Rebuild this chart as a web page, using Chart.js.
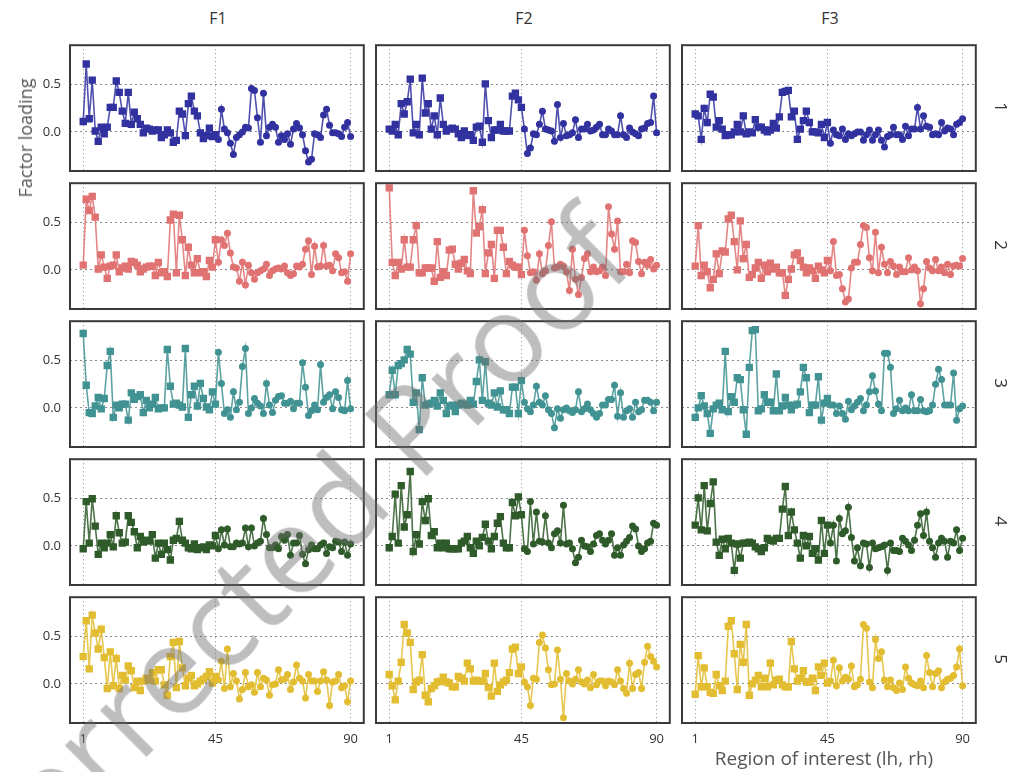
<!DOCTYPE html>
<html>
<head>
<meta charset="utf-8">
<script src="https://cdn.jsdelivr.net/npm/chart.js@4.4.1/dist/chart.umd.min.js"></script>
<style>
  body { margin: 0; background: #fff; }
  #fig { position: relative; width: 1017px; height: 772px; overflow: hidden; font-family: "Open Sans", sans-serif; }
  #fig canvas { position: absolute; }
  .lbl { position: absolute; white-space: nowrap; color: #333; transform: translate(-50%, -50%); }
  .axis { color: #555; }
  #stamp {
    position: absolute; left: 285px; top: 552px; white-space: nowrap;
    font-size: 122px; font-weight: 500; color: rgba(110, 110, 110, 0.45);
    transform: translate(-50%, -50%) rotate(-45deg); pointer-events: none; z-index: 5;
  }
</style>
</head>
<body>
<div id="fig"></div>
<script>
const factors = ["F1", "F2", "F3"];
const components = ["1", "2", "3", "4", "5"];
const xTicks = [1, 45, 90];
const yTicks = [0.0, 0.5];
const lhCount = 45; // first 45 regions = lh (squares), rest = rh (circles)

// component 1
const c1_F1 = [0.11, 0.72, 0.14, 0.55, 0.01, -0.10, 0.05, -0.02, 0.05, 0.26, 0.26, 0.54, 0.42, 0.22, 0.09, 0.42, 0.08, 0.21, 0.14, 0.08, -0.01, 0.04, 0.03, 0.01, 0.02, 0.02, -0.06, -0.03, 0.02, -0.01, -0.11, -0.09, 0.22, 0.19, -0.04, 0.30, 0.38, 0.22, 0.17, -0.01, -0.07, -0.04, 0.04, -0.05, -0.03,
  -0.08, 0.24, 0.03, -0.01, -0.12, -0.24, -0.06, -0.03, 0.00, 0.05, 0.04, 0.46, 0.44, 0.15, -0.11, 0.41, -0.04, 0.05, 0.08, 0.05, -0.11, -0.04, -0.08, -0.02, -0.13, 0.03, 0.09, 0.04, -0.03, -0.20, -0.32, -0.29, -0.02, -0.03, -0.06, 0.18, 0.24, 0.07, -0.01, -0.01, -0.02, -0.05, 0.05, 0.10, -0.05];
const c1_F2 = [0.03, 0.01, 0.08, -0.03, 0.30, 0.19, 0.32, 0.56, -0.01, 0.08, -0.03, 0.57, 0.20, 0.30, 0.03, 0.17, -0.03, 0.36, 0.08, 0.01, 0.03, 0.04, 0.03, -0.02, -0.06, 0.01, -0.04, -0.03, -0.09, 0.05, 0.06, -0.11, 0.51, 0.12, -0.06, 0.02, 0.02, 0.08, 0.01, 0.01, 0.01, 0.38, 0.41, 0.34, 0.26,
  0.03, -0.23, -0.17, -0.02, -0.03, 0.08, 0.22, 0.03, 0.02, 0.01, -0.10, 0.29, -0.06, 0.09, -0.04, -0.03, -0.01, 0.13, -0.06, 0.03, 0.03, 0.08, 0.01, 0.02, 0.05, 0.08, -0.03, -0.03, 0.03, 0.01, -0.03, -0.03, 0.17, -0.03, -0.06, 0.04, 0.00, -0.02, -0.04, 0.03, 0.04, 0.09, 0.10, 0.38, -0.01];
const c1_F3 = [0.19, 0.17, -0.08, 0.25, 0.10, 0.40, 0.37, 0.05, 0.12, 0.03, -0.04, -0.03, -0.03, 0.00, 0.08, 0.00, 0.17, -0.02, 0.00, -0.01, 0.13, 0.05, 0.05, 0.02, 0.00, 0.02, 0.09, 0.04, 0.16, 0.42, 0.43, 0.44, 0.16, 0.22, -0.08, 0.03, 0.12, 0.22, 0.10, 0.00, 0.00, -0.01, 0.08, -0.06, 0.10,
  -0.12, 0.02, -0.03, -0.04, 0.03, -0.08, -0.02, -0.04, -0.02, 0.00, 0.00, -0.09, -0.03, 0.02, -0.09, -0.03, 0.02, -0.09, -0.16, -0.05, -0.03, 0.05, -0.03, -0.03, -0.08, 0.06, -0.04, 0.03, 0.03, 0.26, 0.03, 0.17, 0.06, 0.05, -0.03, -0.02, -0.03, 0.10, 0.01, 0.04, 0.03, -0.03, 0.08, 0.10, 0.14];

// component 2
const c2_F1 = [0.05, 0.75, 0.63, 0.78, 0.56, 0.01, 0.16, 0.03, -0.09, 0.04, 0.05, 0.16, -0.02, 0.02, 0.04, 0.01, 0.09, 0.08, 0.05, -0.02, 0.01, 0.03, 0.04, 0.04, -0.06, 0.08, -0.03, -0.02, -0.07, 0.53, 0.59, -0.03, 0.58, 0.32, -0.06, 0.24, 0.05, -0.03, 0.12, -0.03, -0.02, -0.07, 0.10, 0.03, 0.32,
  0.08, 0.32, 0.26, 0.39, 0.18, 0.03, 0.02, -0.12, 0.08, -0.16, 0.05, -0.03, -0.10, -0.03, -0.01, 0.01, 0.06, -0.06, -0.01, 0.01, 0.02, 0.01, 0.04, -0.03, -0.06, -0.04, 0.04, 0.03, 0.06, 0.22, 0.31, -0.05, 0.25, 0.03, 0.04, 0.26, 0.04, 0.05, -0.01, 0.17, 0.13, -0.03, -0.02, -0.12, 0.17];
const c2_F2 = [0.87, 0.08, -0.06, 0.08, 0.01, 0.32, 0.03, 0.03, 0.32, 0.47, -0.03, -0.03, 0.02, 0.02, 0.02, -0.12, 0.30, -0.08, -0.02, -0.06, 0.21, 0.22, 0.06, 0.01, 0.07, 0.11, -0.01, -0.04, 0.84, 0.39, 0.46, 0.64, -0.04, 0.18, 0.27, -0.09, 0.42, 0.42, 0.24, -0.04, 0.09, 0.05, 0.03, 0.03, -0.05,
  0.42, 0.15, -0.03, -0.02, -0.11, 0.17, -0.04, -0.01, 0.26, 0.51, 0.02, 0.03, 0.06, 0.04, -0.02, -0.22, 0.22, -0.10, -0.26, -0.08, 0.12, 0.17, -0.02, 0.03, -0.02, -0.01, 0.03, -0.06, 0.67, 0.38, 0.22, 0.52, -0.02, -0.02, 0.06, -0.03, 0.31, 0.29, 0.09, -0.04, 0.08, 0.05, 0.11, 0.01, 0.05];
const c2_F3 = [0.04, 0.47, -0.06, 0.05, -0.02, -0.19, -0.10, 0.17, -0.04, 0.20, 0.19, 0.54, 0.58, 0.30, 0.00, 0.52, 0.12, 0.27, -0.08, -0.05, 0.02, 0.08, -0.09, 0.05, -0.02, 0.07, 0.01, 0.03, -0.03, -0.03, -0.27, -0.10, 0.01, 0.16, 0.18, 0.10, 0.03, -0.03, 0.02, -0.01, -0.09, 0.04, 0.00, -0.03, 0.10,
  -0.01, 0.30, -0.06, -0.05, -0.20, -0.34, -0.31, 0.02, 0.08, 0.08, 0.27, 0.47, 0.45, 0.13, -0.01, 0.40, -0.03, 0.24, 0.06, -0.03, 0.09, 0.04, -0.05, 0.03, -0.02, -0.02, 0.13, 0.00, 0.03, -0.01, -0.36, -0.20, 0.09, 0.02, -0.01, 0.11, -0.01, 0.03, -0.03, 0.06, -0.05, 0.04, 0.05, 0.04, 0.12];

// component 3
const c3_F1 = [0.79, 0.24, -0.05, -0.06, 0.02, 0.11, -0.01, 0.10, 0.45, 0.60, -0.10, 0.03, 0.00, 0.04, 0.04, -0.13, 0.16, 0.09, 0.12, 0.14, -0.05, 0.08, 0.00, 0.04, 0.11, -0.01, 0.00, 0.00, 0.62, 0.23, 0.04, 0.05, 0.03, 0.01, 0.63, -0.10, 0.14, 0.23, 0.02, 0.26, 0.10, 0.01, -0.02, 0.17, 0.04,
  0.59, 0.26, -0.06, -0.02, -0.10, 0.17, -0.02, 0.06, 0.44, 0.63, -0.06, 0.00, 0.10, 0.05, 0.02, -0.06, 0.26, 0.03, -0.05, 0.08, 0.12, 0.13, 0.05, 0.05, 0.07, -0.01, 0.05, 0.05, 0.48, 0.22, -0.08, -0.03, 0.03, -0.02, 0.46, 0.06, 0.11, 0.14, -0.01, 0.17, 0.11, -0.02, -0.03, 0.29, -0.01];
const c3_F2 = [0.14, 0.40, 0.14, 0.45, 0.47, 0.51, 0.62, 0.57, 0.06, 0.16, -0.23, 0.32, 0.03, 0.04, 0.05, 0.08, 0.02, 0.16, 0.08, -0.06, 0.02, 0.03, -0.04, 0.03, 0.05, 0.04, 0.03, 0.08, 0.04, 0.28, 0.51, 0.08, 0.49, 0.05, 0.03, 0.16, 0.01, 0.18, -0.02, -0.02, -0.06, 0.22, 0.22, -0.06, 0.29,
  0.06, -0.01, -0.04, 0.03, 0.23, 0.06, 0.03, 0.13, -0.02, -0.06, -0.21, -0.01, -0.11, -0.02, 0.00, -0.03, -0.05, -0.02, 0.17, -0.04, -0.01, 0.04, -0.02, -0.06, -0.10, -0.06, 0.03, 0.03, 0.09, 0.09, 0.24, -0.09, 0.16, -0.10, -0.03, -0.01, -0.10, 0.06, -0.04, -0.02, 0.08, 0.08, 0.06, -0.03, 0.06];
const c3_F3 = [-0.10, 0.00, 0.13, 0.02, -0.06, -0.27, -0.01, 0.03, 0.05, -0.02, 0.60, -0.04, 0.12, 0.06, 0.32, 0.30, -0.02, -0.28, 0.43, 0.82, 0.83, -0.03, -0.01, 0.14, 0.06, 0.06, -0.03, 0.36, -0.03, 0.02, 0.11, 0.03, -0.02, 0.03, 0.04, 0.17, 0.43, 0.32, -0.05, 0.03, 0.03, 0.33, -0.13, 0.05, 0.10,
  0.03, 0.03, -0.06, 0.02, -0.06, -0.12, 0.07, -0.02, 0.02, 0.06, 0.10, -0.03, 0.03, 0.17, 0.34, 0.18, 0.04, -0.03, 0.58, 0.58, 0.43, -0.06, -0.01, 0.08, -0.03, 0.00, -0.03, 0.14, -0.03, -0.03, 0.09, -0.03, -0.04, -0.03, 0.03, 0.25, 0.41, 0.30, 0.03, 0.03, 0.03, 0.37, -0.13, -0.01, 0.02];

// component 4
const c4_F1 = [-0.03, 0.47, 0.03, 0.50, 0.21, -0.09, 0.03, -0.02, 0.03, 0.12, -0.01, 0.32, 0.14, 0.03, 0.04, 0.32, 0.25, 0.15, -0.02, 0.10, 0.04, 0.06, 0.05, 0.12, -0.13, 0.03, -0.09, 0.03, -0.04, -0.15, 0.06, 0.08, 0.26, 0.06, 0.03, -0.02, -0.03, 0.02, -0.04, -0.02, -0.01, -0.04, 0.01, 0.00, 0.11,
  -0.03, 0.17, 0.01, 0.18, -0.01, -0.01, 0.03, 0.02, 0.03, 0.19, -0.01, 0.19, 0.00, 0.03, 0.05, 0.29, 0.12, -0.02, -0.02, 0.01, -0.03, 0.10, 0.06, 0.12, -0.10, 0.03, 0.03, 0.11, -0.09, -0.19, -0.04, 0.01, -0.03, -0.03, 0.01, 0.03, -0.08, -0.01, -0.02, 0.05, 0.04, -0.06, 0.04, -0.10, 0.02];
const c4_F2 = [-0.02, 0.10, 0.55, 0.03, 0.64, 0.20, 0.33, 0.79, -0.06, 0.12, 0.02, 0.47, 0.27, 0.50, 0.11, 0.15, -0.02, 0.03, -0.02, 0.03, -0.03, -0.03, -0.03, -0.03, 0.03, 0.05, 0.10, -0.02, -0.08, 0.05, 0.00, 0.09, 0.23, 0.05, -0.03, 0.10, 0.24, 0.31, 0.03, -0.02, -0.02, 0.46, 0.32, 0.52, 0.33,
  -0.03, -0.06, 0.47, 0.02, 0.36, 0.05, 0.04, 0.32, 0.03, -0.02, 0.13, 0.16, 0.03, 0.43, 0.02, 0.03, -0.03, -0.18, -0.12, 0.06, 0.00, -0.01, -0.06, 0.02, 0.11, 0.13, 0.06, 0.02, 0.06, 0.13, -0.10, -0.02, -0.10, 0.01, 0.05, 0.09, 0.21, 0.18, 0.00, -0.06, -0.03, 0.03, 0.05, 0.24, 0.22];
const c4_F3 = [0.22, 0.51, 0.17, 0.64, 0.16, 0.45, 0.68, 0.04, -0.10, 0.07, -0.03, 0.08, 0.03, -0.26, 0.02, -0.13, 0.03, 0.03, 0.04, 0.03, -0.01, -0.03, -0.06, -0.02, 0.08, 0.06, 0.05, 0.08, 0.08, 0.39, 0.63, 0.11, 0.36, 0.17, 0.03, -0.13, 0.11, 0.00, 0.10, -0.08, -0.03, -0.15, 0.27, -0.08, 0.22,
  0.03, 0.22, -0.16, 0.29, 0.13, 0.16, 0.41, 0.09, -0.16, -0.02, -0.21, 0.03, 0.02, -0.23, 0.03, -0.03, -0.02, -0.01, 0.01, -0.26, 0.03, -0.05, -0.05, -0.06, 0.08, 0.05, 0.01, -0.05, 0.06, 0.22, 0.34, 0.11, 0.36, 0.05, -0.02, -0.12, 0.03, 0.08, 0.05, -0.12, 0.05, 0.03, 0.17, -0.05, 0.08];

// component 5
const c5_F1 = [0.29, 0.67, 0.16, 0.73, 0.54, 0.37, 0.58, 0.28, -0.05, 0.34, -0.02, 0.27, -0.05, 0.09, 0.04, 0.19, 0.14, -0.04, 0.03, -0.07, 0.03, 0.06, 0.04, 0.12, 0.03, 0.15, 0.15, -0.01, -0.12, 0.29, 0.44, -0.04, 0.45, 0.17, -0.02, 0.06, 0.09, -0.02, 0.00, 0.03, 0.05, 0.08, 0.13, 0.01, 0.08,
  0.04, 0.24, -0.05, 0.37, -0.03, 0.11, 0.03, -0.16, -0.06, 0.12, -0.03, -0.01, -0.09, 0.12, -0.03, 0.06, 0.04, -0.12, -0.01, 0.00, 0.15, 0.04, 0.05, 0.10, -0.06, 0.02, 0.20, 0.06, 0.03, -0.15, 0.10, 0.03, 0.03, -0.08, 0.03, 0.13, 0.04, -0.23, 0.02, 0.03, 0.10, -0.04, -0.02, -0.19, 0.03];
const c5_F2 = [0.10, -0.02, -0.17, 0.03, 0.23, 0.63, 0.54, 0.44, -0.06, 0.02, 0.04, 0.31, -0.12, -0.19, -0.05, -0.02, 0.02, 0.03, 0.07, 0.02, 0.01, -0.03, -0.03, 0.08, 0.06, 0.03, 0.22, 0.16, 0.03, 0.04, 0.03, 0.03, 0.11, -0.04, -0.13, 0.22, -0.08, -0.01, 0.02, 0.04, 0.12, 0.37, 0.39, 0.11, 0.18,
  0.02, -0.03, -0.23, 0.06, 0.05, 0.44, 0.52, 0.38, 0.15, -0.01, 0.00, 0.36, 0.05, -0.36, 0.11, 0.03, 0.00, 0.05, 0.15, 0.02, 0.00, 0.04, -0.04, 0.10, -0.01, 0.03, 0.03, -0.02, 0.03, 0.02, -0.01, 0.15, 0.03, -0.05, -0.10, 0.22, -0.05, 0.10, 0.12, -0.05, 0.23, 0.40, 0.29, 0.24, 0.18];
const c5_F3 = [-0.11, 0.30, -0.03, 0.17, -0.03, -0.09, -0.10, 0.10, -0.02, -0.07, 0.03, 0.61, 0.67, 0.32, -0.06, 0.42, 0.23, 0.63, -0.12, 0.00, 0.04, 0.09, -0.03, 0.06, -0.03, 0.22, -0.01, 0.04, 0.05, -0.01, -0.03, -0.03, 0.45, 0.16, 0.03, 0.06, 0.14, 0.02, 0.02, 0.06, -0.07, 0.18, 0.09, 0.22, 0.01,
  0.03, 0.25, -0.02, 0.17, 0.03, 0.07, 0.05, 0.19, -0.03, -0.01, 0.05, 0.63, 0.59, 0.02, -0.04, 0.47, 0.27, 0.34, 0.04, -0.03, 0.04, -0.04, -0.07, 0.01, -0.06, 0.18, 0.06, 0.01, -0.01, -0.02, 0.03, -0.04, 0.30, 0.12, -0.03, 0.11, 0.14, -0.04, 0.02, 0.05, 0.06, 0.09, 0.18, 0.37, -0.02];

const loadings = [
  [c1_F1, c1_F2, c1_F3],
  [c2_F1, c2_F2, c2_F3],
  [c3_F1, c3_F2, c3_F3],
  [c4_F1, c4_F2, c4_F3],
  [c5_F1, c5_F2, c5_F3]
];
const rowColors = ["#3131a0", "#e07272", "#419292", "#2e5b29", "#e3bd31"];

// panel geometry
const colLeft = [70, 376, 682];
const rowTop = [43, 181, 319, 457, 595];
const panelW = 296, panelH = 128;
const padL = 50, padB = 34, padT = 3, padR = 3;

const fig = document.getElementById("fig");

const frame = {
  id: "frame",
  afterDraw(chart) {
    const { ctx, chartArea: a } = chart;
    ctx.save();
    ctx.strokeStyle = "#3a3a3a";
    ctx.lineWidth = 2;
    ctx.strokeRect(a.left, a.top, a.right - a.left, a.bottom - a.top);
    ctx.restore();
  }
};

function withAlpha(hex, a) {
  const n = parseInt(hex.slice(1), 16);
  return `rgba(${n >> 16}, ${(n >> 8) & 255}, ${n & 255}, ${a})`;
}

function addLabel(text, x, y, size, cls, rotate) {
  const d = document.createElement("div");
  d.className = "lbl " + (cls || "");
  d.textContent = text;
  d.style.left = x + "px";
  d.style.top = y + "px";
  d.style.fontSize = size + "px";
  if (rotate) d.style.transform = `translate(-50%, -50%) rotate(${rotate}deg)`;
  fig.appendChild(d);
}

// keep every panel the same size whether or not it shows tick labels
function fixX(s) { s.height = padB; s.paddingLeft = 0; s.paddingRight = 0; }
function fixY(s) { s.width = padL; s.paddingTop = 0; s.paddingBottom = 0; }

loadings.forEach((row, r) => {
  row.forEach((vals, c) => {
    const cv = document.createElement("canvas");
    cv.width = padL + panelW + padR;
    cv.height = padT + panelH + padB;
    cv.style.left = (colLeft[c] - padL) + "px";
    cv.style.top = (rowTop[r] - padT) + "px";
    fig.appendChild(cv);

    const col = rowColors[r];
    new Chart(cv, {
      type: "line",
      data: {
        datasets: [{
          data: vals.map((v, i) => ({ x: i + 1, y: v })),
          borderColor: withAlpha(col, 0.85),
          backgroundColor: col,
          borderWidth: 1.6,
          tension: 0,
          pointBorderWidth: 0,
          pointStyle: ctx => ctx.dataIndex < lhCount ? "rect" : "circle",
          pointRadius: ctx => ctx.dataIndex < lhCount ? 5.2 : 3.5
        }]
      },
      options: {
        responsive: false,
        animation: false,
        events: [],
        layout: { padding: { top: padT, right: padR, left: 0, bottom: 0 } },
        plugins: { legend: { display: false }, tooltip: { enabled: false } },
        scales: {
          x: {
            type: "linear",
            min: -3.4,
            max: 94.4,
            afterBuildTicks: s => { s.ticks = xTicks.map(v => ({ value: v })); },
            afterFit: fixX,
            grid: { drawTicks: false, color: "#8a8a8a", lineWidth: 1 },
            border: { display: false, dash: [1, 3] },
            ticks: {
              display: r === loadings.length - 1,
              padding: 8,
              color: "#333",
              font: { family: "Open Sans", size: 13 },
              maxRotation: 0,
              callback: v => String(v)
            }
          },
          y: {
            min: -0.415,
            max: 0.92,
            afterBuildTicks: s => { s.ticks = yTicks.map(v => ({ value: v })); },
            afterFit: fixY,
            grid: { drawTicks: false, color: "#8a8a8a", lineWidth: 1 },
            border: { display: false, dash: [2, 3] },
            ticks: {
              display: c === 0,
              padding: 9,
              color: "#333",
              font: { family: "Open Sans", size: 13 },
              callback: v => Number(v).toFixed(1)
            }
          }
        }
      },
      plugins: [frame]
    });
  });
});

// column titles, row labels, axis titles
factors.forEach((f, c) => addLabel(f, colLeft[c] + panelW / 2, 18, 16));
components.forEach((k, r) => addLabel(k, 1001, rowTop[r] + panelH / 2, 17, "", 90));
addLabel("Factor loading", 25, 138, 18, "axis", -90);
addLabel("Region of interest (lh, rh)", 824, 758, 19, "axis");

const stamp = document.createElement("div");
stamp.id = "stamp";
stamp.textContent = "Corrected Proof";
fig.appendChild(stamp);
</script>
</body>
</html>
